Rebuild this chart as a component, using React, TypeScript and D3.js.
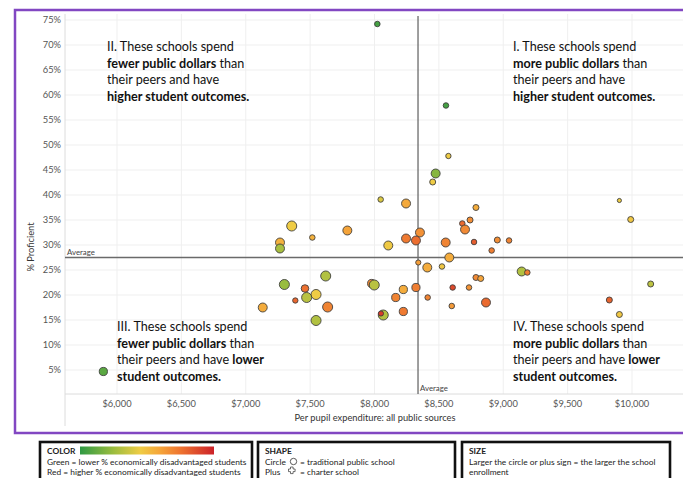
import React from "react";
import * as d3 from "d3";

// ---- Data ----
const spend = [
  8022, 8555, 8574, 8475, 8452, 8048, 8245, 8788, 8742, 8682,
  8703, 7789, 8353, 8107, 8245, 8322, 8553, 8773, 8954, 9045,
  8910, 8581, 7357, 7517, 7266, 7266, 8340, 7621, 7300, 7460,
  7546, 7473, 7385, 7132, 7636, 7546, 7978, 7998, 8224, 8165,
  8224, 8068, 8050, 8322, 8410, 8524, 9143, 9187, 8788, 8825,
  8607, 8734, 8413, 8866, 8600, 9902, 9990, 10145, 9824, 9902,
  5894,
];
const proficient = [
  74.2, 57.9, 47.8, 44.3, 42.6, 39.1, 38.3, 37.5, 35.0, 34.3,
  33.1, 32.9, 32.5, 29.9, 31.3, 30.9, 30.5, 30.6, 31.0, 30.9,
  28.9, 27.5, 33.8, 31.5, 30.5, 29.3, 26.5, 23.8, 22.1, 21.3,
  20.1, 19.5, 18.9, 17.5, 17.6, 14.9, 22.3, 22.0, 21.1, 19.5,
  16.7, 16.0, 16.3, 21.5, 25.5, 25.7, 24.7, 24.5, 23.5, 23.3,
  21.5, 21.5, 19.5, 18.5, 17.8, 38.9, 35.1, 22.2, 19.0, 16.1,
  4.7,
];
const disadvantaged = [
  5, 5, 45, 20, 45, 40, 58, 57, 67, 78,
  68, 60, 66, 46, 73, 77, 70, 82, 67, 70,
  72, 57, 45, 55, 55, 28, 62, 30, 24, 76,
  45, 32, 79, 57, 70, 30, 68, 32, 57, 70,
  73, 30, 92, 72, 57, 47, 30, 72, 68, 60,
  88, 65, 70, 78, 63, 44, 47, 33, 80, 47,
  10,
];
const enrollment = [
  320, 320, 300, 840, 380, 320, 840, 380, 380, 320,
  840, 840, 840, 840, 840, 840, 840, 320, 380, 320,
  320, 840, 1050, 320, 840, 840, 280, 1050, 1050, 600,
  1050, 1050, 300, 840, 1050, 1050, 700, 1050, 700, 700,
  700, 1050, 280, 700, 840, 320, 840, 320, 380, 380,
  320, 320, 320, 840, 320, 180, 380, 380, 380, 380,
  700,
];

const xTicks = [6000, 6500, 7000, 7500, 8000, 8500, 9000, 9500, 10000];
const yTicks = [5, 10, 15, 20, 25, 30, 35, 40, 45, 50, 55, 60, 65, 70, 75];
const averageSpend = 8338;
const averageProficient = 27.5;

const colorStops = [0, 25, 45, 60, 75, 100];
const colorRange = ["#2f9a44", "#9cbd3f", "#efcc45", "#f5a43a", "#ee7430", "#cc2229"];

const FONT = "Lato, 'Open Sans', sans-serif";

export default function App() {
  const W = 683;
  const H = 478;
  const plotLeft = 65;
  const plotRight = 683;
  const plotTop = 14;
  const plotBottom = 394;

  const x = d3.scaleLinear().domain([6000, 10000]).range([117, 632]);
  const y = d3.scaleLinear().domain([0, 75]).range([395, 20]);
  const color = d3
    .scaleLinear<string>()
    .domain(colorStops)
    .range(colorRange)
    .interpolate(d3.interpolateRgb);
  const r = d3.scaleSqrt().domain([0, 1500]).range([0, 6]);

  const fmt = d3.format("$,");
  const points = spend.map((s, i) => ({
    s,
    p: proficient[i],
    d: disadvantaged[i],
    e: enrollment[i],
  }));

  const ax = x(averageSpend);
  const ay = y(averageProficient);

  const qText = (
    x0: number,
    y0: number,
    lines: { t: string; b?: boolean }[][]
  ) => (
    <text x={x0} y={y0} fontFamily={FONT} fontSize={12.6} fill="#111">
      {lines.map((parts, li) => (
        <tspan key={li} x={x0} y={y0 + li * 16.5}>
          {parts.map((pt, pi) => (
            <tspan key={pi} fontWeight={pt.b ? 700 : 400}>
              {pt.t}
            </tspan>
          ))}
        </tspan>
      ))}
    </text>
  );

  const gradStops = colorStops.map((v) => ({ off: v / 100, c: color(v) }));

  return (
    <div style={{ position: "absolute", left: 0, top: 0, width: W, height: H, background: "#fff" }}>
      <svg width={W} height={H} style={{ display: "block" }}>
        <defs>
          <linearGradient id="cgrad" x1="0" x2="1" y1="0" y2="0">
            {gradStops.map((g, i) => (
              <stop key={i} offset={g.off} stopColor={g.c} />
            ))}
          </linearGradient>
          <clipPath id="plotclip">
            <rect x={plotLeft} y={plotTop} width={plotRight - plotLeft} height={plotBottom - plotTop} />
          </clipPath>
        </defs>
        <rect x={0} y={0} width={W} height={H} fill="#fff" />

        {/* gridlines */}
        {yTicks.map((t) => (
          <line key={"gy" + t} x1={plotLeft} x2={plotRight} y1={y(t)} y2={y(t)} stroke="#efefef" strokeWidth={1} />
        ))}
        {xTicks.map((t) => (
          <line key={"gx" + t} x1={x(t)} x2={x(t)} y1={plotTop} y2={plotBottom} stroke="#efefef" strokeWidth={1} />
        ))}

        {/* axes lines */}
        <line x1={plotLeft} x2={plotLeft} y1={plotTop} y2={426} stroke="#dcdcdc" strokeWidth={1} />
        <line x1={plotLeft} x2={plotRight} y1={plotBottom} y2={plotBottom} stroke="#dcdcdc" strokeWidth={1} />

        {/* tick labels */}
        {yTicks.map((t) => (
          <text key={"ty" + t} x={61} y={y(t) + 3.3} textAnchor="end" fontFamily={FONT} fontSize={9.3} fill="#555">
            {t + "%"}
          </text>
        ))}
        {xTicks.map((t) => (
          <text key={"tx" + t} x={x(t)} y={407} textAnchor="middle" fontFamily={FONT} fontSize={9.3} fill="#555">
            {fmt(t)}
          </text>
        ))}
        <text x={375} y={421} textAnchor="middle" fontFamily={FONT} fontSize={9.3} fill="#333">
          Per pupil expenditure: all public sources
        </text>
        <text
          transform={`translate(34,247) rotate(-90)`}
          textAnchor="middle"
          fontFamily={FONT}
          fontSize={9.3}
          fill="#333"
        >
          % Proficient
        </text>

        {/* quadrant text */}
        {qText(107, 51, [
          [{ t: "II. These schools spend" }],
          [{ t: "fewer public dollars", b: true }, { t: " than" }],
          [{ t: "their peers and have" }],
          [{ t: "higher student outcomes.", b: true }],
        ])}
        {qText(513, 51, [
          [{ t: "I. These schools spend" }],
          [{ t: "more public dollars", b: true }, { t: " than" }],
          [{ t: "their peers and have" }],
          [{ t: "higher student outcomes.", b: true }],
        ])}
        {qText(117, 331, [
          [{ t: "III. These schools spend" }],
          [{ t: "fewer public dollars", b: true }, { t: " than" }],
          [{ t: "their peers and have " }, { t: "lower", b: true }],
          [{ t: "student outcomes.", b: true }],
        ])}
        {qText(513, 331, [
          [{ t: "IV. These schools spend" }],
          [{ t: "more public dollars", b: true }, { t: " than" }],
          [{ t: "their peers and have " }, { t: "lower", b: true }],
          [{ t: "student outcomes.", b: true }],
        ])}

        {/* average lines */}
        <line x1={plotLeft} x2={plotRight} y1={ay} y2={ay} stroke="#6a6a6a" strokeWidth={1.3} />
        <line x1={ax} x2={ax} y1={plotTop + 2} y2={plotBottom} stroke="#6a6a6a" strokeWidth={1.3} />
        <text x={67} y={ay - 3} fontFamily={FONT} fontSize={7.8} fill="#444">
          Average
        </text>
        <text x={ax + 2} y={plotBottom - 3} fontFamily={FONT} fontSize={7.8} fill="#444">
          Average
        </text>

        {/* points */}
        <g clipPath="url(#plotclip)">
          {points.map((d, i) => (
            <circle
              key={i}
              cx={x(d.s)}
              cy={y(d.p)}
              r={r(d.e)}
              fill={color(d.d)}
              stroke="#3a3a3a"
              strokeOpacity={0.85}
              strokeWidth={1}
            />
          ))}
        </g>

        {/* purple frame */}
        <path d={`M ${W + 5} 10 H 15 V 433 H ${W + 5}`} fill="none" stroke="#8247c2" strokeWidth={2.5} />

        {/* legend boxes */}
        <g fontFamily={FONT} fontSize={8.4} fill="#222">
          <rect x={40} y={442} width={212} height={45} fill="#fff" stroke="#111" strokeWidth={2.6} />
          <text x={47} y={454} fontWeight={700}>COLOR</text>
          <rect x={80} y={446.5} width={134} height={8} fill="url(#cgrad)" />
          <text x={47} y={464.5}>Green = lower % economically disadvantaged students</text>
          <text x={47} y={474.5}>Red = higher % economically disadvantaged students</text>

          <rect x={258} y={442} width={197} height={45} fill="#fff" stroke="#111" strokeWidth={2.6} />
          <text x={265} y={454} fontWeight={700}>SHAPE</text>
          <text x={265} y={464.5}>Circle</text>
          <circle cx={293.5} cy={461.5} r={3.2} fill="none" stroke="#333" strokeWidth={0.8} />
          <text x={300} y={464.5}>= traditional public school</text>
          <text x={265} y={474.5}>Plus</text>
          <path
            d="M 288.5 469 h 2 v -2 h 2.6 v 2 h 2 v 2.6 h -2 v 2 h -2.6 v -2 h -2 z"
            fill="none"
            stroke="#333"
            strokeWidth={0.7}
          />
          <text x={300} y={474.5}>= charter school</text>

          <rect x={462} y={442} width={208} height={45} fill="#fff" stroke="#111" strokeWidth={2.6} />
          <text x={469} y={454} fontWeight={700}>SIZE</text>
          <text x={469} y={464.5}>Larger the circle or plus sign = the larger the school</text>
          <text x={469} y={474.5}>enrollment</text>
        </g>
      </svg>
    </div>
  );
}
